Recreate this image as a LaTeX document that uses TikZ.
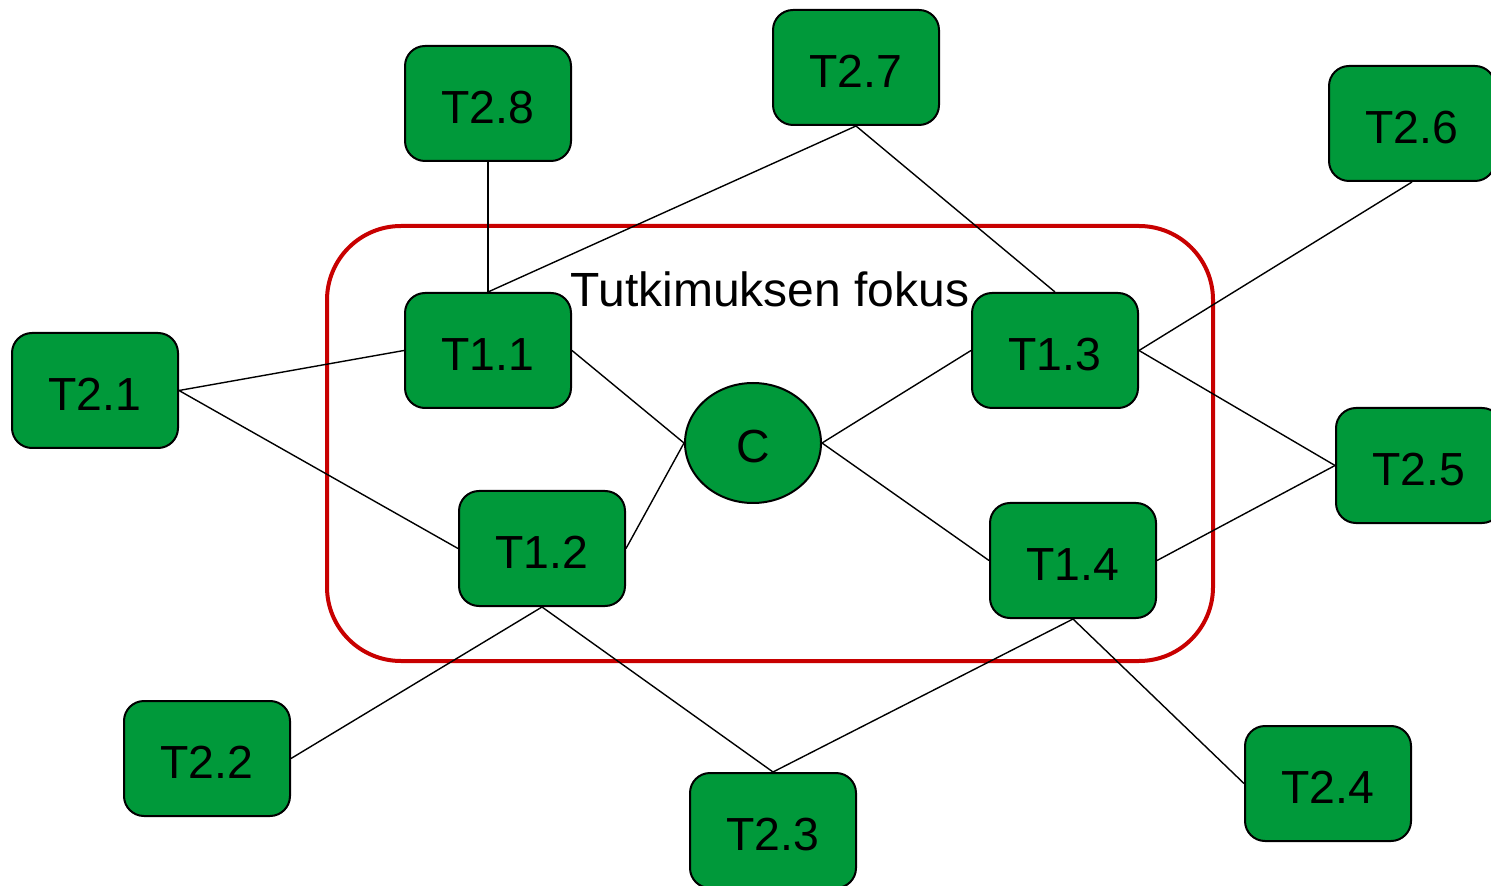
\documentclass[tikz,border=0pt]{standalone}
\usepackage{fontspec}
\setmainfont{Liberation Sans}
\usetikzlibrary{shapes.geometric}
\definecolor{boxgreen}{RGB}{0,153,58}
\definecolor{focusred}{RGB}{200,0,0}
\begin{document}
\begin{tikzpicture}[x=0.5pt,y=-0.5pt,
  tbox/.style={draw=black,line width=1pt,fill=boxgreen,rounded corners=10pt,
    minimum width=83pt,minimum height=57.5pt,inner sep=0pt,
    text height=20pt,text depth=0pt,
    font=\fontsize{23.2}{27}\selectfont},
  cnode/.style={ellipse,draw=black,line width=1pt,fill=boxgreen,
    minimum width=68pt,minimum height=60pt,inner sep=0pt,
    text height=20pt,text depth=0pt,
    font=\fontsize{23.2}{27}\selectfont},
  link/.style={draw=black,line width=0.7pt}]
\useasboundingbox (0,0) rectangle (1491,886);
\draw[focusred,line width=2pt,rounded corners=37pt] (327,226) rectangle (1213,661);
\node[font=\fontsize{24}{28}\selectfont,inner sep=0pt] (lbl) at (770,289.5) {Tutkimuksen fokus};
\node[tbox] (t28) at (488,103.5) {T2.8};
\node[tbox] (t27) at (856,67.5) {T2.7};
\node[tbox] (t26) at (1412,123.5) {T2.6};
\node[tbox] (t21) at (95,390.5) {T2.1};
\node[tbox] (t11) at (488,350.5) {T1.1};
\node[tbox] (t13) at (1055,350.5) {T1.3};
\node[cnode] (c) at (753,443) {C};
\node[tbox] (t12) at (542,548.5) {T1.2};
\node[tbox] (t14) at (1073,560.5) {T1.4};
\node[tbox] (t25) at (1419,465.5) {T2.5};
\node[tbox] (t22) at (207,758.5) {T2.2};
\node[tbox] (t23) at (773,830.5) {T2.3};
\node[tbox] (t24) at (1328,783.5) {T2.4};
\draw[link] (t28.south) -- (t11.north);
\draw[link] (t27.south) -- (t11.north);
\draw[link] (t27.south) -- (t13.north);
\draw[link] (t26.south) -- (t13.east);
\draw[link] (t21.east) -- (t11.west);
\draw[link] (t21.east) -- (t12.west);
\draw[link] (t11.east) -- (c.west);
\draw[link] (t12.east) -- (c.west);
\draw[link] (c.east) -- (t13.west);
\draw[link] (c.east) -- (t14.west);
\draw[link] (t13.east) -- (t25.west);
\draw[link] (t14.east) -- (t25.west);
\draw[link] (t12.south) -- (t22.east);
\draw[link] (t12.south) -- (t23.north);
\draw[link] (t14.south) -- (t23.north);
\draw[link] (t14.south) -- (t24.west);
\end{tikzpicture}
\end{document}
